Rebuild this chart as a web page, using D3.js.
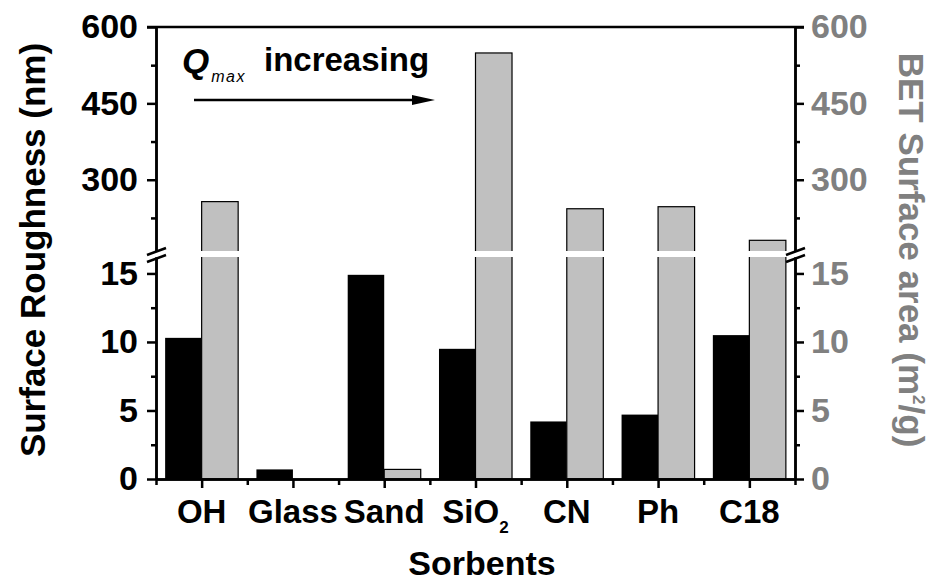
<!DOCTYPE html>
<html>
<head>
<meta charset="utf-8">
<script src="https://cdn.jsdelivr.net/npm/d3@7/dist/d3.min.js"></script>
<style>
  body { margin: 0; background: #fff; }
  text { font-family: "Liberation Sans", Arial, sans-serif; font-weight: bold; }
</style>
</head>
<body>
<div id="graph"></div>
<script>
// Données
var sorbants = ["OH", "Glass", "Sand", "SiO2", "CN", "Ph", "C18"];
var rugosite = [10.3, 0.7, 14.9, 9.5, 4.2, 4.7, 10.5];      // nm
var surfaceBET = [257, 0, 0.7, 549, 243, 247, 181];          // m2/g
var ticksBas = [0, 5, 10, 15];
var ticksBasMineurs = [2.5, 7.5, 12.5];
var ticksHaut = [300, 450, 600];
var ticksHautMineurs = [225, 375, 525];

var largeurTotale = 947, hauteurTotale = 581;
var gauche = 156, droite = 795;
var hautPanneau = 27, basPanneauHaut = 251;   // partie haute (coupure)
var hautPanneauBas = 257, basPanneau = 479;   // partie basse
var gris = "#808080";

// Echelles
var echelleX = d3.scaleLinear().domain([0.5, 7.5]).range([gauche, droite]);
var echelleYBas = d3.scaleLinear().domain([0, 16.2]).range([basPanneau, hautPanneauBas]);
var echelleYHaut = d3.scaleLinear().domain([160, 600]).range([basPanneauHaut, hautPanneau]);

function posY(v) {
  return v <= echelleYBas.domain()[1] ? echelleYBas(v) : echelleYHaut(v);
}

var svg = d3.select("#graph").append("svg")
    .attr("width", largeurTotale)
    .attr("height", hauteurTotale);

var largeurBarre = 0.4;

// Barres noires : rugosité
svg.selectAll(".noire")
  .data(rugosite)
  .enter()
  .append("rect")
  .attr("class", "noire")
  .attr("x", function(d, i) { return echelleX(i + 1 - largeurBarre); })
  .attr("width", function(d, i) { return echelleX(i + 1) - echelleX(i + 1 - largeurBarre); })
  .attr("y", function(d) { return posY(d); })
  .attr("height", function(d) { return echelleYBas(0) - posY(d); })
  .attr("fill", "#000");

// Barres grises : surface BET
svg.selectAll(".grise")
  .data(surfaceBET.map(function(v, i) { return {v: v, i: i}; }).filter(function(d) { return d.v > 0; }))
  .enter()
  .append("rect")
  .attr("class", "grise")
  .attr("x", function(d) { return echelleX(d.i + 1); })
  .attr("width", function(d) { return echelleX(d.i + 1 + largeurBarre) - echelleX(d.i + 1); })
  .attr("y", function(d) { return posY(d.v); })
  .attr("height", function(d) { return echelleYBas(0) - posY(d.v); })
  .attr("fill", "#c0c0c0")
  .attr("stroke", "#000")
  .attr("stroke-width", 1.2);

// Bande blanche de la coupure
svg.append("rect")
  .attr("x", gauche + 2)
  .attr("y", basPanneauHaut)
  .attr("width", droite - gauche - 4)
  .attr("height", hautPanneauBas - basPanneauHaut)
  .attr("fill", "#fff");

// Cadre haut
svg.append("line")
  .attr("x1", gauche - 9).attr("x2", droite + 9)
  .attr("y1", hautPanneau).attr("y2", hautPanneau)
  .attr("stroke", "#000").attr("stroke-width", 2.5);

// Axes Y
function axeY(cote, echelle, valeurs, mineurs, x, couleur) {
  var fabrique = cote === "gauche" ? d3.axisLeft : d3.axisRight;
  var g = svg.append("g").attr("transform", "translate(" + x + ",0)");
  g.call(fabrique(echelle).tickValues(valeurs).tickSize(9).tickSizeOuter(0).tickPadding(cote === "gauche" ? 9 : 7));
  g.append("g").call(fabrique(echelle).tickValues(mineurs).tickSize(5).tickSizeOuter(0).tickFormat(""));
  g.selectAll("path").attr("stroke", "#000").attr("stroke-width", 2.5);
  g.selectAll("line").attr("stroke", "#000").attr("stroke-width", 2.5);
  g.selectAll("text")
    .attr("fill", couleur)
    .style("font-size", "34px")
    .style("font-family", "'Liberation Sans', Arial, sans-serif")
    .style("font-weight", "bold");
}
axeY("gauche", echelleYBas, ticksBas, ticksBasMineurs, gauche, "#000");
axeY("gauche", echelleYHaut, ticksHaut, ticksHautMineurs, gauche, "#000");
axeY("droite", echelleYBas, ticksBas, ticksBasMineurs, droite, gris);
axeY("droite", echelleYHaut, ticksHaut, ticksHautMineurs, droite, gris);

// Marques de coupure
[gauche, droite].forEach(function(x) {
  [basPanneauHaut + 1, hautPanneauBas + 2].forEach(function(y) {
    svg.append("line")
      .attr("x1", x - 9).attr("y1", y + 3)
      .attr("x2", x + 10).attr("y2", y - 4)
      .attr("stroke", "#000").attr("stroke-width", 2.5);
  });
});

// Axe X
var axeX = svg.append("g").attr("transform", "translate(0," + basPanneau + ")");
axeX.call(d3.axisBottom(echelleX).tickValues(d3.range(1, 8)).tickSize(9).tickSizeOuter(0).tickFormat(""));
axeX.append("g").call(d3.axisBottom(echelleX).tickValues(d3.range(0.5, 8, 1)).tickSize(6).tickSizeOuter(0).tickFormat(""));
axeX.selectAll("path").attr("stroke", "#000").attr("stroke-width", 2.5);
axeX.selectAll("line").attr("stroke", "#000").attr("stroke-width", 2.5);

// Etiquettes des sorbants
svg.selectAll(".etiquette")
  .data(sorbants)
  .enter()
  .append("text")
  .attr("class", "etiquette")
  .attr("x", function(d, i) { return echelleX(i + 1); })
  .attr("y", 523)
  .attr("text-anchor", "middle")
  .style("font-size", "33px")
  .each(function(d) {
    var t = d3.select(this);
    if (d === "SiO2") {
      t.append("tspan").text("SiO");
      t.append("tspan").text("2").style("font-size", "17px").attr("dy", 10);
    } else {
      t.text(d);
    }
  });

// Titres des axes
svg.append("text")
  .attr("x", 482).attr("y", 575)
  .attr("text-anchor", "middle")
  .style("font-size", "34px")
  .text("Sorbents");

svg.append("text")
  .attr("transform", "translate(45,250) rotate(-90)")
  .attr("text-anchor", "middle")
  .style("font-size", "35px")
  .text("Surface Roughness (nm)");

var titreDroit = svg.append("text")
  .attr("transform", "translate(899,250) rotate(90)")
  .attr("text-anchor", "middle")
  .attr("fill", gris)
  .style("font-size", "35px");
titreDroit.append("tspan").text("BET Surface area (m");
titreDroit.append("tspan").text("2").style("font-size", "17px").attr("dy", -14);
titreDroit.append("tspan").text("/g)").attr("dy", 14);

// Annotation Qmax
var annot = svg.append("text").attr("x", 182).attr("y", 73);
annot.append("tspan").text("Q").style("font-size", "35px").style("font-style", "italic");
annot.append("tspan").text("max").style("font-size", "16px").style("font-style", "italic")
  .style("font-weight", "normal").style("letter-spacing", "1.5px").attr("dx", 2).attr("dy", 9);
svg.append("text").attr("x", 264).attr("y", 71)
  .style("font-size", "33px")
  .text("increasing");

svg.append("line")
  .attr("x1", 194).attr("x2", 418)
  .attr("y1", 100).attr("y2", 100)
  .attr("stroke", "#000").attr("stroke-width", 2.5);
svg.append("path")
  .attr("d", "M412,95 L435,100 L412,105 Z")
  .attr("fill", "#000");
</script>
</body>
</html>
